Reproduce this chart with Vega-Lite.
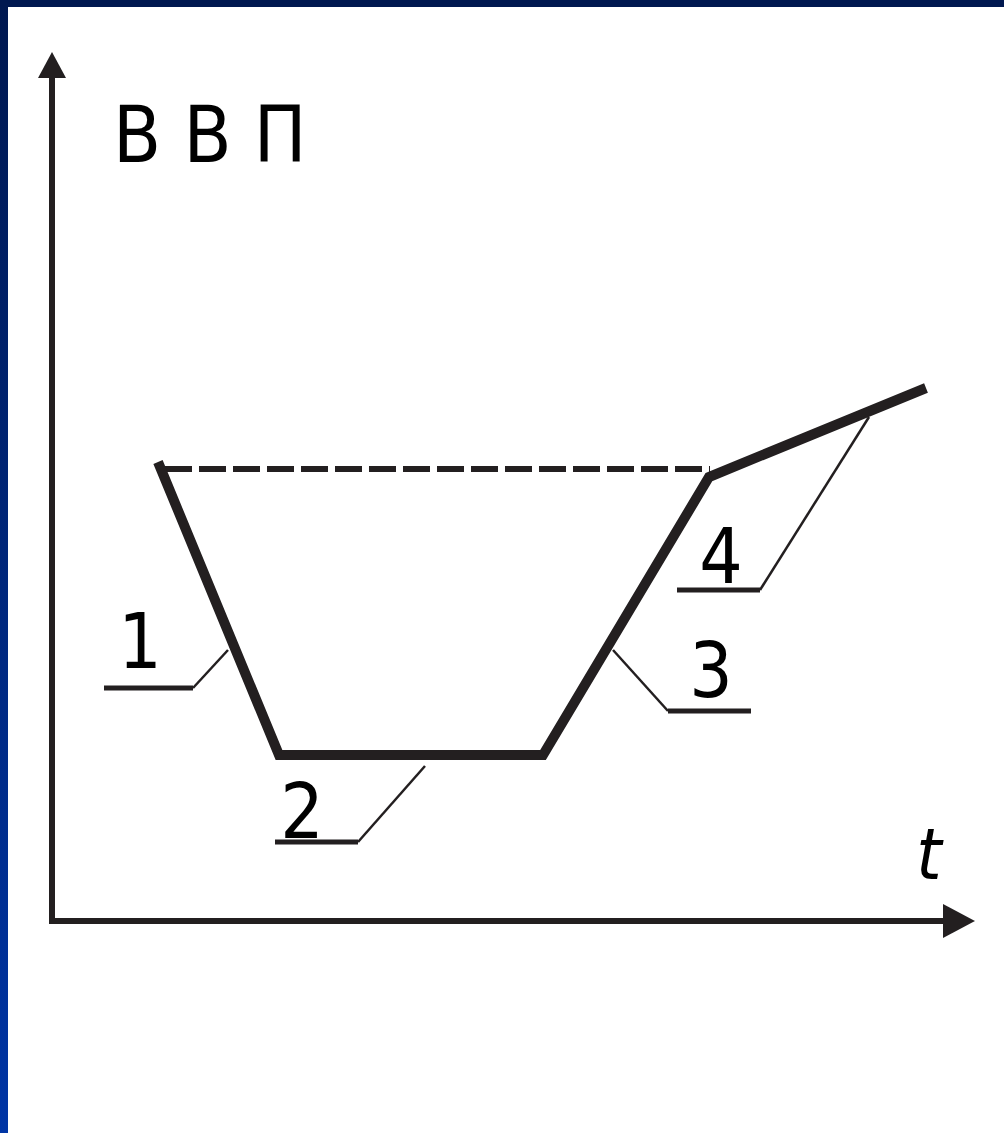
{
  "$schema": "https://vega.github.io/schema/vega-lite/v6.json",
  "width": 1004,
  "height": 1133,
  "autosize": {"type": "fit", "contains": "padding"},
  "padding": 0,
  "background": "#ffffff",
  "config": {"view": {"stroke": null}},
  "datasets": {
    "curve": [
      {"t": 106, "v": 459, "seq": 1},
      {"t": 227, "v": 166, "seq": 2},
      {"t": 491, "v": 166, "seq": 3},
      {"t": 657, "v": 444, "seq": 4},
      {"t": 874, "v": 533, "seq": 5}
    ],
    "baseline": [{"t1": 113, "t2": 658, "v": 452}],
    "axes": [
      {"t1": -3, "t2": 891, "v1": 0, "v2": 0},
      {"t1": 0, "t2": 0, "v1": -3, "v2": 843}
    ],
    "arrowUp": [{"t": 0, "v": 856}],
    "arrowRight": [{"t": 907, "v": 0}],
    "leaders": [
      {"t1": 176, "v1": 271, "t2": 141, "v2": 233},
      {"t1": 306, "v1": 79, "t2": 373, "v2": 155},
      {"t1": 561, "v1": 271, "t2": 616, "v2": 210},
      {"t1": 708, "v1": 331, "t2": 817, "v2": 504}
    ],
    "underlines": [
      {"t1": 52, "t2": 141, "v": 233},
      {"t1": 223, "t2": 306, "v": 79},
      {"t1": 616, "t2": 699, "v": 210},
      {"t1": 625, "t2": 708, "v": 331}
    ],
    "labels": [
      {"t": 88, "v": 253, "label": "1"},
      {"t": 250, "v": 83, "label": "2"},
      {"t": 659, "v": 224, "label": "3"},
      {"t": 669, "v": 338, "label": "4"}
    ],
    "ytitle": [{"t": 61, "v": 759, "label": "В В П"}],
    "xtitle": [{"t": 877, "v": 42, "label": "t"}]
  },
  "layer": [
    {
      "data": {"name": "axes"},
      "mark": {"type": "rule", "color": "#231f20", "strokeWidth": 6, "strokeCap": "butt"},
      "encoding": {
        "x": {"field": "t1", "type": "quantitative", "scale": {"domain": [-52, 952], "nice": false, "zero": false}, "axis": null},
        "x2": {"field": "t2"},
        "y": {"field": "v1", "type": "quantitative", "scale": {"domain": [-212, 921], "nice": false, "zero": false}, "axis": null},
        "y2": {"field": "v2"}
      }
    },
    {
      "data": {"name": "arrowUp"},
      "mark": {"type": "point", "shape": "M0,-0.93L1,0.93L-1,0.93Z", "size": 784, "filled": true, "color": "#231f20", "opacity": 1, "strokeWidth": 0},
      "encoding": {
        "x": {"field": "t", "type": "quantitative", "scale": {"domain": [-52, 952], "nice": false, "zero": false}, "axis": null},
        "y": {"field": "v", "type": "quantitative", "scale": {"domain": [-212, 921], "nice": false, "zero": false}, "axis": null}
      }
    },
    {
      "data": {"name": "arrowRight"},
      "mark": {"type": "point", "shape": "M0.94,0L-0.94,-1L-0.94,1Z", "size": 1156, "filled": true, "color": "#231f20", "opacity": 1, "strokeWidth": 0},
      "encoding": {
        "x": {"field": "t", "type": "quantitative", "scale": {"domain": [-52, 952], "nice": false, "zero": false}, "axis": null},
        "y": {"field": "v", "type": "quantitative", "scale": {"domain": [-212, 921], "nice": false, "zero": false}, "axis": null}
      }
    },
    {
      "data": {"name": "baseline"},
      "mark": {"type": "rule", "color": "#231f20", "strokeWidth": 6, "strokeDash": [27, 7], "strokeCap": "butt"},
      "encoding": {
        "x": {"field": "t1", "type": "quantitative", "scale": {"domain": [-52, 952], "nice": false, "zero": false}, "axis": null},
        "x2": {"field": "t2"},
        "y": {"field": "v", "type": "quantitative", "scale": {"domain": [-212, 921], "nice": false, "zero": false}, "axis": null}
      }
    },
    {
      "data": {"name": "leaders"},
      "mark": {"type": "rule", "color": "#231f20", "strokeWidth": 2.5, "strokeCap": "butt"},
      "encoding": {
        "x": {"field": "t1", "type": "quantitative", "scale": {"domain": [-52, 952], "nice": false, "zero": false}, "axis": null},
        "x2": {"field": "t2"},
        "y": {"field": "v1", "type": "quantitative", "scale": {"domain": [-212, 921], "nice": false, "zero": false}, "axis": null},
        "y2": {"field": "v2"}
      }
    },
    {
      "data": {"name": "underlines"},
      "mark": {"type": "rule", "color": "#231f20", "strokeWidth": 5, "strokeCap": "butt"},
      "encoding": {
        "x": {"field": "t1", "type": "quantitative", "scale": {"domain": [-52, 952], "nice": false, "zero": false}, "axis": null},
        "x2": {"field": "t2"},
        "y": {"field": "v", "type": "quantitative", "scale": {"domain": [-212, 921], "nice": false, "zero": false}, "axis": null}
      }
    },
    {
      "data": {"name": "curve"},
      "mark": {"type": "line", "color": "#231f20", "strokeWidth": 10, "strokeCap": "butt", "strokeJoin": "miter"},
      "encoding": {
        "x": {"field": "t", "type": "quantitative", "scale": {"domain": [-52, 952], "nice": false, "zero": false}, "axis": null},
        "y": {"field": "v", "type": "quantitative", "scale": {"domain": [-212, 921], "nice": false, "zero": false}, "axis": null},
        "order": {"field": "seq", "type": "quantitative"}
      }
    },
    {
      "data": {"name": "labels"},
      "mark": {"type": "text", "font": "Liberation Sans Narrow, DejaVu Sans Condensed, DejaVu Sans", "fontSize": 76, "color": "#000000", "align": "center", "baseline": "alphabetic"},
      "encoding": {
        "x": {"field": "t", "type": "quantitative", "scale": {"domain": [-52, 952], "nice": false, "zero": false}, "axis": null},
        "y": {"field": "v", "type": "quantitative", "scale": {"domain": [-212, 921], "nice": false, "zero": false}, "axis": null},
        "text": {"field": "label"}
      }
    },
    {
      "data": {"name": "ytitle"},
      "mark": {"type": "text", "font": "Liberation Sans Narrow, DejaVu Sans Condensed, DejaVu Sans", "fontSize": 78, "color": "#000000", "align": "left", "baseline": "alphabetic"},
      "encoding": {
        "x": {"field": "t", "type": "quantitative", "scale": {"domain": [-52, 952], "nice": false, "zero": false}, "axis": null},
        "y": {"field": "v", "type": "quantitative", "scale": {"domain": [-212, 921], "nice": false, "zero": false}, "axis": null},
        "text": {"field": "label"}
      }
    },
    {
      "data": {"name": "xtitle"},
      "mark": {"type": "text", "font": "Liberation Sans Narrow, DejaVu Sans Condensed, DejaVu Sans", "fontSize": 72, "fontStyle": "italic", "color": "#000000", "align": "center", "baseline": "alphabetic"},
      "encoding": {
        "x": {"field": "t", "type": "quantitative", "scale": {"domain": [-52, 952], "nice": false, "zero": false}, "axis": null},
        "y": {"field": "v", "type": "quantitative", "scale": {"domain": [-212, 921], "nice": false, "zero": false}, "axis": null},
        "text": {"field": "label"}
      }
    },
    {
      "data": {"values": [{}]},
      "mark": {"type": "rect", "fill": {"gradient": "linear", "x1": 0, "y1": 0, "x2": 0, "y2": 1, "stops": [{"offset": 0, "color": "#001850"}, {"offset": 1, "color": "#0035a5"}]}},
      "encoding": {
        "x": {"datum": -52, "type": "quantitative", "scale": {"domain": [-52, 952], "nice": false, "zero": false}, "axis": null},
        "x2": {"datum": -44},
        "y": {"datum": -212, "type": "quantitative", "scale": {"domain": [-212, 921], "nice": false, "zero": false}, "axis": null},
        "y2": {"datum": 921}
      }
    },
    {
      "data": {"values": [{}]},
      "mark": {"type": "rect", "fill": "#001850"},
      "encoding": {
        "x": {"datum": -52, "type": "quantitative", "scale": {"domain": [-52, 952], "nice": false, "zero": false}, "axis": null},
        "x2": {"datum": 952},
        "y": {"datum": 914, "type": "quantitative", "scale": {"domain": [-212, 921], "nice": false, "zero": false}, "axis": null},
        "y2": {"datum": 921}
      }
    }
  ]
}
